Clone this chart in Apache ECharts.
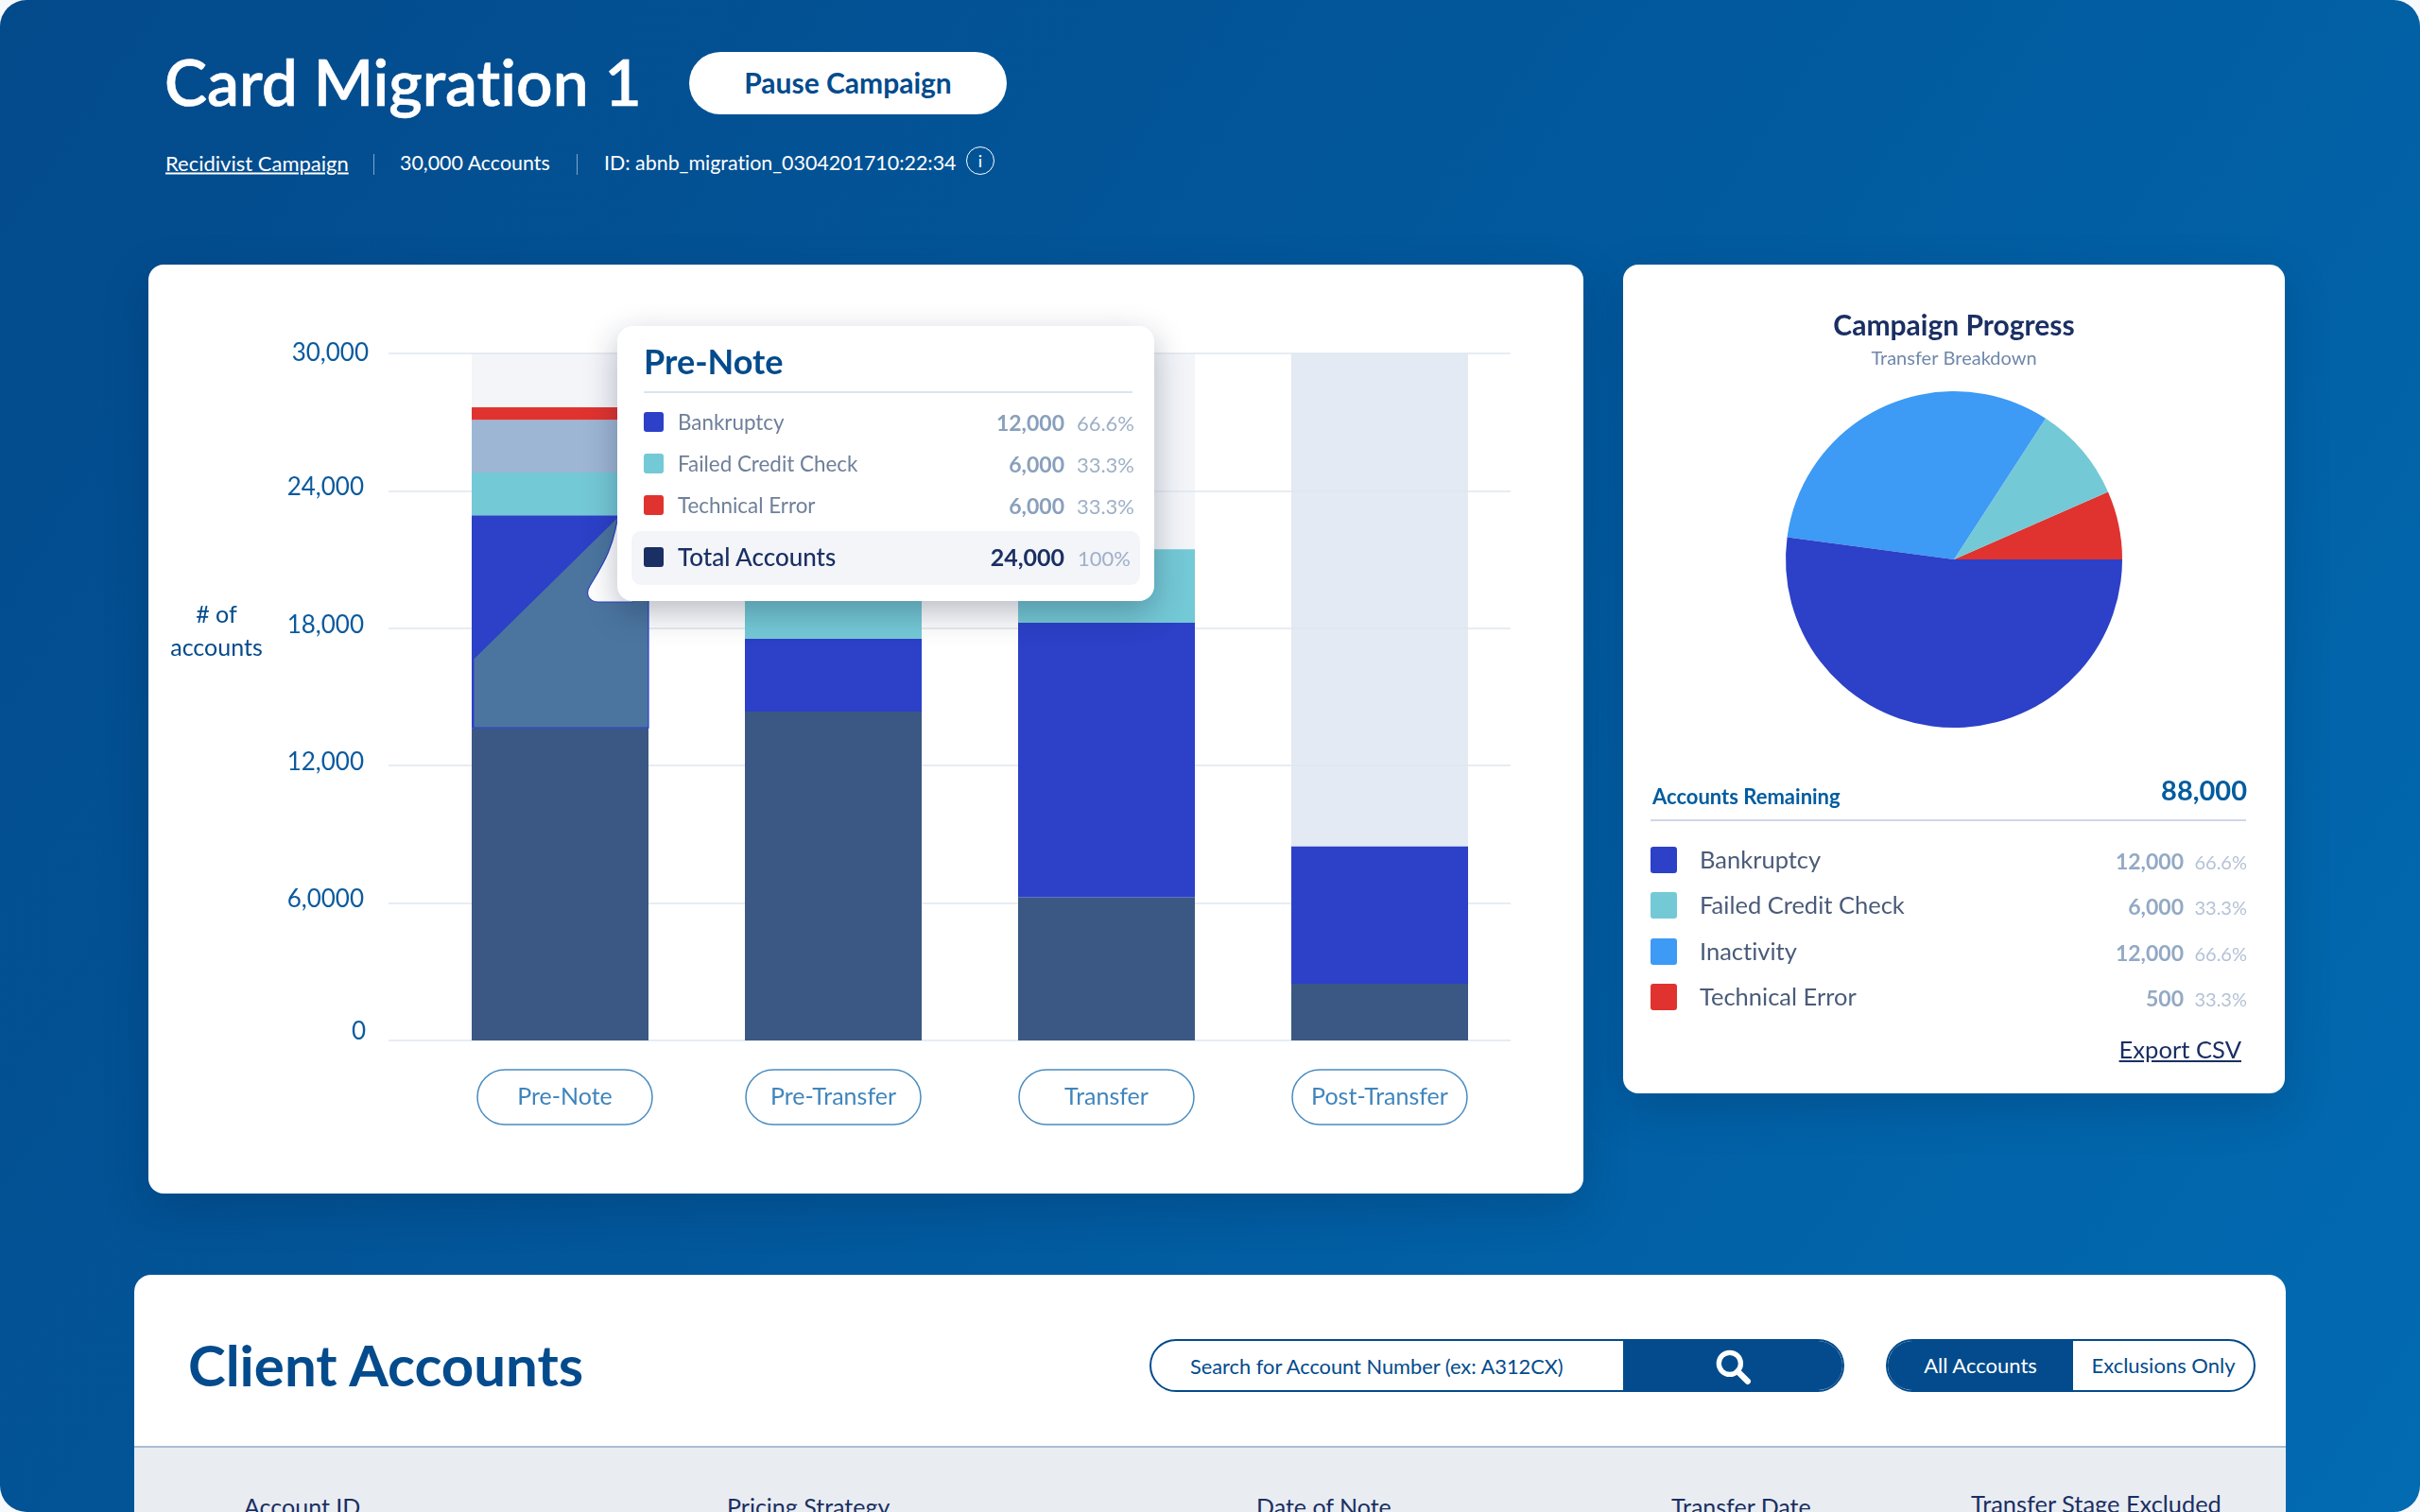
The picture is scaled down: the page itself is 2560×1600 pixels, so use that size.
<!DOCTYPE html>
<html lang="en">
<head>
<meta charset="UTF-8"/>
<title>Card Migration 1</title>
<script src="https://cdn.jsdelivr.net/npm/echarts@6/dist/echarts.min.js"></script>
<style>
html,body{margin:0;padding:0;background:#f6f9fc;}
body{width:2560px;height:1600px;overflow:hidden;position:relative;font-family:Lato,"Open Sans",sans-serif;font-variant-ligatures:none;}
.page{position:absolute;left:0;top:0;width:2560px;height:1600px;border-radius:28px;overflow:hidden;
  background:linear-gradient(125deg,#034a8b 0%,#02599d 50%,#026bb2 100%);}
.abs{position:absolute;white-space:nowrap;}
.card{position:absolute;background:#fff;border-radius:16px;box-shadow:0 16px 48px rgba(0,30,70,.22);}
#barChart{position:absolute;left:157px;top:280px;width:1518px;height:983px;}
#pieChart{position:absolute;left:1717px;top:280px;width:700px;height:877px;}
.mid{transform:translateY(-50%);}
.sw{position:absolute;border-radius:3px;}
#tip{position:absolute;left:653px;top:345px;width:568px;height:291px;background:#fff;border-radius:16px;box-shadow:0 12px 34px rgba(20,30,60,.3);}
#tail{position:absolute;left:610px;top:530px;width:60px;height:112px;}
</style>
</head>
<body>
<div class="page">
  <div class="abs mid" style="left:174px;top:85px;font-size:67.6px;font-weight:600;color:#fff;-webkit-text-stroke:.6px #fff;">Card Migration 1</div>
  <div class="abs" style="left:729px;top:55px;width:336px;height:66px;border-radius:33px;background:#fff;color:#034b8c;font-size:30px;font-weight:700;line-height:64px;text-align:center;">Pause Campaign</div>
  <div class="abs mid" style="left:175px;top:172px;font-size:22px;color:#fff;text-decoration:underline;">Recidivist Campaign</div>
  <div class="abs" style="left:395px;top:163px;width:1px;height:22px;background:#7fa6cc;"></div>
  <div class="abs mid" style="left:423px;top:172px;font-size:21.4px;color:#fff;">30,000 Accounts</div>
  <div class="abs" style="left:610px;top:163px;width:1px;height:22px;background:#7fa6cc;"></div>
  <div class="abs mid" style="left:639px;top:172px;font-size:21.4px;color:#fff;">ID: abnb_migration_0304201710:22:34</div>
  <div class="abs" style="left:1022px;top:155px;width:28px;height:28px;border:1.5px solid #fff;border-radius:50%;color:#fff;font-size:18px;line-height:28px;text-align:center;">i</div>

  <div class="card" style="left:157px;top:280px;width:1518px;height:983px;"></div>
  <div id="barChart"></div>

  <svg id="tail" viewBox="0 0 60 112">
    <path d="M44 12 C40 50 26 70 14 90 C9 98 12 106 22 107 L60 107 L60 0 Z" fill="#fff" stroke="#2c40c8" stroke-width="1.2"/>
  </svg>
  <div id="tip"></div>

  <div class="card" style="left:1717px;top:280px;width:700px;height:877px;"></div>
  <div id="pieChart"></div>
  <div id="pieLegend"></div>

  <div class="abs" style="left:142px;top:1349px;width:2276px;height:260px;background:#fff;border-radius:18px 18px 0 0;overflow:hidden;">
    <div class="abs" style="left:0;top:181px;width:2276px;height:79px;background:#e9edf2;border-top:2px solid #a9bdd3;"></div>
    <div class="abs mid" style="left:57px;top:95px;font-size:60px;font-weight:700;color:#034b8c;">Client Accounts</div>
    <div class="abs" style="left:1074px;top:68px;width:735px;height:56px;box-sizing:border-box;border:2px solid #034b8c;border-radius:28px;overflow:hidden;">
      <div class="abs mid" style="left:41px;top:26px;font-size:21.8px;color:#034b8c;">Search for Account Number (ex: A312CX)</div>
      <div class="abs" style="left:499px;top:0;width:236px;height:56px;background:#034b8c;">
        <svg class="abs" style="left:96px;top:7px;" width="40" height="40" viewBox="0 0 38 38"><circle cx="16" cy="16" r="11" fill="none" stroke="#fff" stroke-width="5"/><line x1="24" y1="24" x2="34" y2="34" stroke="#fff" stroke-width="6" stroke-linecap="round"/></svg>
      </div>
    </div>
    <div class="abs" style="left:1853px;top:68px;width:391px;height:56px;box-sizing:border-box;border:2px solid #034b8c;border-radius:28px;overflow:hidden;">
      <div class="abs" style="left:0;top:0;width:196px;height:56px;background:#034b8c;color:#fff;font-size:22px;line-height:52px;text-align:center;">All Accounts</div>
      <div class="abs" style="left:196px;top:0;width:191px;height:52px;color:#034b8c;font-size:22px;line-height:52px;text-align:center;">Exclusions Only</div>
    </div>
    <div class="abs" style="left:116px;top:230px;font-size:25px;color:#1a2f63;">Account ID</div>
    <div class="abs" style="left:627px;top:230px;font-size:25px;color:#1a2f63;">Pricing Strategy</div>
    <div class="abs" style="left:1187px;top:230px;font-size:25px;color:#1a2f63;">Date of Note</div>
    <div class="abs" style="left:1626px;top:230px;font-size:25px;color:#1a2f63;">Transfer Date</div>
    <div class="abs" style="left:1943px;top:227px;font-size:25.4px;color:#1a2f63;">Transfer Stage Excluded</div>
  </div>
</div>
<script>
// bar chart data
var stages = ["Pre-Note", "Pre-Transfer", "Transfer", "Post-Transfer"];
var tickLabels = ["0", "6,0000", "12,000", "18,000", "24,000", "30,000"];
var completed = [13650, 14360, 6250, 2480];
var bankruptcy = [9280, 3180, 11990, 5990];
var failedCredit = [1870, 3910, 3210, 0];
var inactivity = [2300, 0, 0, 0];
var technical = [550, 0, 0, 0];
var capacity = [30000, 30000, 30000, 30000];
var trackColors = ["#f3f5f9", "#f3f5f9", "#f3f5f9", "#e3eaf3"];
// selection wedge over the Pre-Note bar: [fraction of bar width, account value]
var wedgePoints = [[0.01, 13650], [1, 13650], [1, 22820], [0.82, 22820], [0.01, 16670]];

// tooltip rows
var tipRows = ["Bankruptcy", "Failed Credit Check", "Technical Error"];
var tipValues = ["12,000", "6,000", "6,000"];
var tipShares = ["66.6%", "33.3%", "33.3%"];

// pie data
var pieNames = ["Technical Error", "Failed Credit Check", "Inactivity", "Bankruptcy"];
var pieValues = [5790, 8140, 28210, 45860];
var pieColors = ["#e0332f", "#74c9d6", "#3d9af5", "#2c40c8"];

// legend rows under the pie
var legendNames = ["Bankruptcy", "Failed Credit Check", "Inactivity", "Technical Error"];
var legendValues = ["12,000", "6,000", "12,000", "500"];
var legendShares = ["66.6%", "33.3%", "66.6%", "33.3%"];
var legendColors = ["#2c40c8", "#74c9d6", "#3d9af5", "#e0332f"];

var FONT = 'Lato';
var barChart = echarts.init(document.getElementById("barChart"));

function stack(name, data, color) {
    return {name: name, type: "bar", xAxisIndex: 1, yAxisIndex: 1, stack: "accounts", barWidth: 187,
        data: data, itemStyle: {color: color}, silent: true, z: 3};
}

barChart.setOption({
    animation: false,
    grid: [
        {left: 254, right: 77, top: 94, height: 727},
        {left: 291, width: 1156, top: 94, height: 727}
    ],
    xAxis: [
        {type: "category", gridIndex: 0, data: stages, show: false},
        {type: "category", gridIndex: 1, data: stages,
            axisLine: {show: false}, axisTick: {show: false},
            axisLabel: {
                interval: 0, margin: 31,
                // the first pill sits a little right of its bar
                formatter: function (v, i) {
                    return (i === 0 ? "{gap| }" : "") + "{pill|" + v + "}";
                },
                rich: {
                    gap: {width: 10, height: 58},
                    pill: {
                        color: "#3f85bd", fontFamily: FONT, fontSize: 25,
                        width: 185, height: 58, lineHeight: 58, align: "center",
                        borderColor: "#4a8cc0", borderWidth: 1.5, borderRadius: 29
                    }
                }
            }}
    ],
    yAxis: [
        {type: "value", gridIndex: 0, min: 0, max: 30000, interval: 6000, z: 2,
            axisLine: {show: false}, axisTick: {show: false},
            splitLine: {lineStyle: {color: "#dfe6ef", width: 1.5}},
            axisLabel: {
                margin: 21,
                formatter: function (v) {
                    var style = v === 30000 ? "top" : (v === 0 ? "zero" : "mid");
                    return "{" + style + "|" + tickLabels[v / 6000] + "}";
                },
                rich: {
                    top: {color: "#0a5a9e", fontFamily: FONT, fontSize: 26},
                    mid: {color: "#0a5a9e", fontFamily: FONT, fontSize: 26, padding: [0, 5, 7, 0]},
                    zero: {color: "#0a5a9e", fontFamily: FONT, fontSize: 26, padding: [0, 3, 18, 0]}
                }
            }},
        {type: "value", gridIndex: 1, min: 0, max: 30000, interval: 6000, show: false}
    ],
    series: [
        {name: "track", type: "bar", xAxisIndex: 1, yAxisIndex: 1, barWidth: 187, barGap: "-100%", silent: true, z: 1,
            data: capacity.map(function (v, i) {
                return {value: v, itemStyle: {color: trackColors[i]}};
            })},
        stack("Completed", completed, "#3b5884"),
        stack("Bankruptcy", bankruptcy, "#2c40c8"),
        stack("Failed Credit Check", failedCredit, "#74c9d6"),
        stack("Inactivity", inactivity, "#9db6d4"),
        stack("Technical Error", technical, "#e0332f"),
        {type: "custom", xAxisIndex: 1, yAxisIndex: 1, silent: true, z: 5, data: [0],
            renderItem: function (params, api) {
                var center = api.coord([0, 0])[0];
                var pts = wedgePoints.map(function (p) {
                    return [center - 93.5 + p[0] * 187, api.coord([0, p[1]])[1]];
                });
                return {type: "polygon", shape: {points: pts},
                    style: {fill: "#4b759f", stroke: "#2c40c8", lineWidth: 1.2}};
            }}
    ]
});

// # of accounts label
document.getElementById("barChart").insertAdjacentHTML("beforeend",
    '<div class="abs" style="left:2px;top:352px;width:140px;text-align:center;color:#034b8c;font-size:25px;line-height:35px;z-index:3;"># of<br>accounts</div>');

var pieChart = echarts.init(document.getElementById("pieChart"));
pieChart.setOption({
    animation: false,
    title: {
        text: "Campaign Progress", subtext: "Transfer Breakdown", left: "center", top: 45, itemGap: 10,
        textStyle: {color: "#1a2f63", fontFamily: FONT, fontSize: 30, fontWeight: 700},
        subtextStyle: {color: "#6f88ab", fontFamily: FONT, fontSize: 20}
    },
    series: [{
        type: "pie", center: [350, 312], radius: [0, 178], startAngle: 0, clockwise: false, silent: true,
        label: {show: false}, labelLine: {show: false},
        data: pieNames.map(function (n, i) {
            return {name: n, value: pieValues[i], itemStyle: {color: pieColors[i]}};
        })
    }]
});

// tooltip card and legend are plain DOM rows built from the arrays
function row(top, left, text, size, color, weight, rightAlign) {
    var pos = rightAlign ? "right:" + left + "px" : "left:" + left + "px";
    return '<div class="abs mid" style="' + pos + ';top:' + top + 'px;font-size:' + size + 'px;color:' + color +
        ';font-weight:' + weight + ';">' + text + '</div>';
}
function swatch(top, left, size, color, radius) {
    return '<div class="sw" style="left:' + left + 'px;top:' + (top - size / 2) + 'px;width:' + size + 'px;height:' + size +
        'px;background:' + color + ';border-radius:' + radius + 'px;"></div>';
}

var tip = row(37, 28, "Pre-Note", 36, "#034b8c", 700);
tip += '<div class="abs" style="left:28px;top:69px;width:517px;height:2px;background:#dde4ee;"></div>';
tip += '<div class="abs" style="left:15px;top:217px;width:538px;height:57px;background:#f3f5f9;border-radius:10px;"></div>';
var tipColors = ["#2c40c8", "#74c9d6", "#e0332f"];
tipRows.forEach(function (name, i) {
    var y = [101, 145, 189][i];
    tip += swatch(y, 28, 21, tipColors[i], 3);
    tip += row(y, 64, name, 22.4, "#6e7f99", 400);
    tip += row(y + 1, 95, tipValues[i], 23, "#89a0bd", 700, true);
    tip += row(y + 1, 21, tipShares[i], 22, "#9fb0c6", 400, true);
});
tip += swatch(244, 28, 21, "#1a2f63", 3);
tip += row(244, 64, "Total Accounts", 26, "#1a2f63", 500);
tip += row(244, 95, "24,000", 25, "#1a2f63", 700, true);
tip += row(245, 25, "100%", 22, "#9fb0c6", 400, true);
document.getElementById("tip").innerHTML = tip;

var lg = "";
lg += '<div class="abs mid" style="left:1748px;top:842px;font-size:22px;font-weight:700;color:#015c9f;">Accounts Remaining</div>';
lg += '<div class="abs mid" style="left:2200px;width:177px;text-align:right;top:835px;font-size:29px;font-weight:700;color:#015c9f;">88,000</div>';
lg += '<div class="abs" style="left:1746px;top:867px;width:630px;height:2px;background:#cdd8e5;"></div>';
legendNames.forEach(function (name, i) {
    var y = [909, 957, 1006, 1054][i];
    lg += swatch(y + 1, 1746, 28, legendColors[i], 3);
    lg += '<div class="abs mid" style="left:1798px;top:' + y + 'px;font-size:25.5px;color:#4a5b78;">' + name + '</div>';
    lg += '<div class="abs mid" style="right:' + (2560 - 2310) + 'px;top:' + (y + 2) + 'px;font-size:23px;font-weight:700;color:#93a9c4;">' + legendValues[i] + '</div>';
    lg += '<div class="abs mid" style="right:' + (2560 - 2377) + 'px;top:' + (y + 3) + 'px;font-size:20px;color:#b4c2d6;">' + legendShares[i] + '</div>';
});
lg += '<div class="abs mid" style="right:' + (2560 - 2371) + 'px;top:1110px;font-size:25.6px;color:#1a2f63;text-decoration:underline;">Export CSV</div>';
document.getElementById("pieLegend").innerHTML = lg;
</script>
</body>
</html>
